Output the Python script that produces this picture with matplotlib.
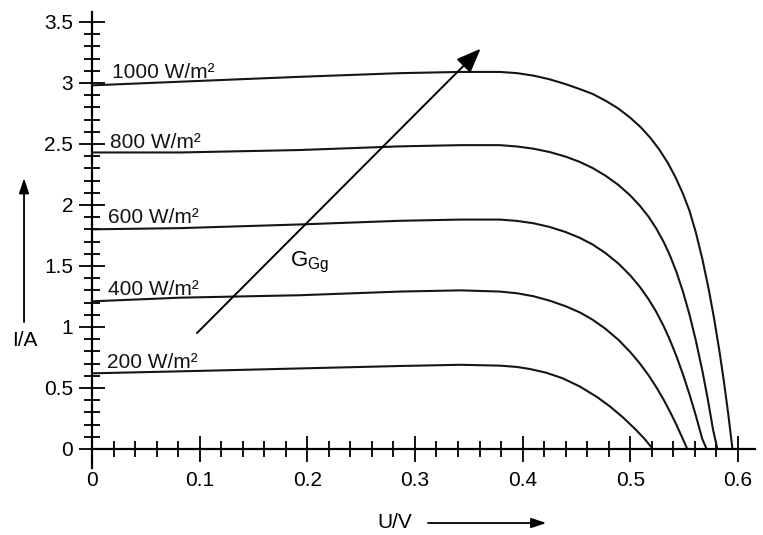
import numpy as np
import matplotlib
matplotlib.use("Agg")
import matplotlib.pyplot as plt
from matplotlib.ticker import FixedLocator, FormatStrFormatter

plt.rcParams['font.family'] = ['Liberation Sans', 'DejaVu Sans']
plt.rcParams['mathtext.fontset'] = 'custom'
plt.rcParams['mathtext.rm'] = 'Liberation Sans'
plt.rcParams['mathtext.it'] = 'Liberation Sans'

# I-V curves (U in V, I in A)
labels = ["1000 W/m²", "800 W/m²", "600 W/m²", "400 W/m²", "200 W/m²"]
u_1000 = [0, 0.082, 0.193, 0.286, 0.342, 0.379, 0.395, 0.410, 0.425, 0.440, 0.453, 0.465, 0.477,
          0.489, 0.500, 0.510, 0.519, 0.527, 0.535, 0.542, 0.549, 0.555, 0.561, 0.567, 0.573,
          0.578, 0.583, 0.587, 0.591, 0.595]
i_1000 = [2.98, 3.01, 3.05, 3.08, 3.09, 3.09, 3.08, 3.06, 3.03, 2.99, 2.95, 2.91, 2.855,
          2.79, 2.715, 2.635, 2.547, 2.454, 2.344, 2.228, 2.092, 1.954, 1.774, 1.558, 1.306,
          1.066, 0.796, 0.556, 0.292, 0.0]
u_800 = [0, 0.082, 0.193, 0.286, 0.342, 0.379, 0.395, 0.410, 0.425, 0.440, 0.453, 0.465, 0.477,
         0.489, 0.500, 0.509, 0.517, 0.524, 0.531, 0.537, 0.543, 0.549, 0.555, 0.561, 0.567,
         0.572, 0.577, 0.581]
i_800 = [2.43, 2.43, 2.45, 2.48, 2.49, 2.49, 2.479, 2.461, 2.434, 2.396, 2.353, 2.303, 2.240,
         2.164, 2.078, 1.993, 1.904, 1.810, 1.698, 1.584, 1.449, 1.290, 1.104, 0.888, 0.642,
         0.412, 0.157, 0.0]
u_600 = [0, 0.082, 0.193, 0.286, 0.342, 0.379, 0.395, 0.410, 0.425, 0.440, 0.453, 0.465, 0.477,
         0.489, 0.500, 0.509, 0.517, 0.524, 0.531, 0.537, 0.543, 0.549, 0.555, 0.561, 0.567, 0.571]
i_600 = [1.80, 1.81, 1.84, 1.87, 1.88, 1.88, 1.869, 1.850, 1.820, 1.778, 1.731, 1.676, 1.606,
         1.520, 1.423, 1.328, 1.228, 1.127, 1.008, 0.891, 0.759, 0.612, 0.450, 0.273, 0.081, 0.0]
u_400 = [0, 0.082, 0.193, 0.286, 0.342, 0.379, 0.395, 0.410, 0.425, 0.440, 0.453, 0.465, 0.477,
         0.489, 0.500, 0.509, 0.517, 0.524, 0.531, 0.537, 0.543, 0.549, 0.553]
i_400 = [1.21, 1.24, 1.26, 1.29, 1.30, 1.29, 1.276, 1.252, 1.216, 1.170, 1.120, 1.060, 0.985,
         0.895, 0.795, 0.700, 0.605, 0.510, 0.405, 0.305, 0.197, 0.080, 0.0]
u_200 = [0, 0.100, 0.193, 0.286, 0.342, 0.379, 0.395, 0.407, 0.422, 0.437, 0.453, 0.469, 0.481,
         0.493, 0.505, 0.513, 0.521]
i_200 = [0.62, 0.64, 0.66, 0.68, 0.69, 0.683, 0.672, 0.655, 0.625, 0.580, 0.513, 0.427, 0.350,
         0.261, 0.160, 0.086, 0.0]
label_pos = [(0.0186, 3.04), (0.0167, 2.47), (0.0149, 1.85), (0.0149, 1.26), (0.0139, 0.66)]

x_major = [0, 0.1, 0.2, 0.3, 0.4, 0.5, 0.6]
y_major = [0, 0.5, 1, 1.5, 2, 2.5, 3, 3.5]

fig = plt.figure(figsize=(7.63, 5.35), dpi=100)
ax = fig.add_axes([0.1206, 0.1243, 0.869, 0.853])

curves = [(u_1000, i_1000), (u_800, i_800), (u_600, i_600), (u_400, i_400), (u_200, i_200)]
for (u, i), lab, pos in zip(curves, labels, label_pos):
    ax.plot(u, i, color='#151515', lw=1.5, solid_joinstyle='round', solid_capstyle='round')
    ax.text(pos[0], pos[1], lab, fontsize=15, ha='left', va='baseline', color='#151515')

# irradiance arrow
ax.annotate('', xy=(0.361, 3.28), xytext=(0.0975, 0.95),
            arrowprops=dict(arrowstyle='-|>,head_length=0.75,head_width=0.3',
                            mutation_scale=20, color='black', lw=1.4, shrinkA=0, shrinkB=0))
ax.text(0.184, 1.50, r'G$_{\mathrm{Gg}}$', fontsize=16, ha='left', va='baseline')

ax.set_xlim(0, 0.616)
ax.set_ylim(-0.16, 3.58)
for s in ['top', 'right']:
    ax.spines[s].set_visible(False)
ax.spines['bottom'].set_position(('data', 0))
ax.spines['left'].set_linewidth(1.6)
ax.spines['bottom'].set_linewidth(1.6)

ax.xaxis.set_major_locator(FixedLocator(x_major))
ax.yaxis.set_major_locator(FixedLocator(y_major))
ax.xaxis.set_minor_locator(FixedLocator(np.arange(0.02, 0.6, 0.02)))
ax.yaxis.set_minor_locator(FixedLocator(np.arange(0.1, 3.5, 0.1)))
ax.xaxis.set_major_formatter(FormatStrFormatter('%g'))
ax.yaxis.set_major_formatter(FormatStrFormatter('%g'))
ax.tick_params(which='major', direction='inout', length=19, width=1.3, labelsize=15, pad=4)
ax.tick_params(which='minor', direction='inout', length=12, width=1.3)
ax.tick_params(axis='x', which='major', pad=6)

# axis titles with arrows
fig.text(0.033, 0.364, 'I/A', fontsize=15, ha='center', va='center')
fig.text(0.518, 0.024, 'U/V', fontsize=15, ha='center', va='center')
ax.annotate('', xy=(0.0315, 0.667), xytext=(0.0315, 0.398), xycoords='figure fraction',
            arrowprops=dict(arrowstyle='-|>,head_length=0.6,head_width=0.2',
                            mutation_scale=15, color='black', lw=1.3, shrinkA=0, shrinkB=0))
ax.annotate('', xy=(0.716, 0.0224), xytext=(0.561, 0.0224), xycoords='figure fraction',
            arrowprops=dict(arrowstyle='-|>,head_length=0.6,head_width=0.2',
                            mutation_scale=15, color='black', lw=1.3, shrinkA=0, shrinkB=0))

fig.savefig('out.png', dpi=100)
